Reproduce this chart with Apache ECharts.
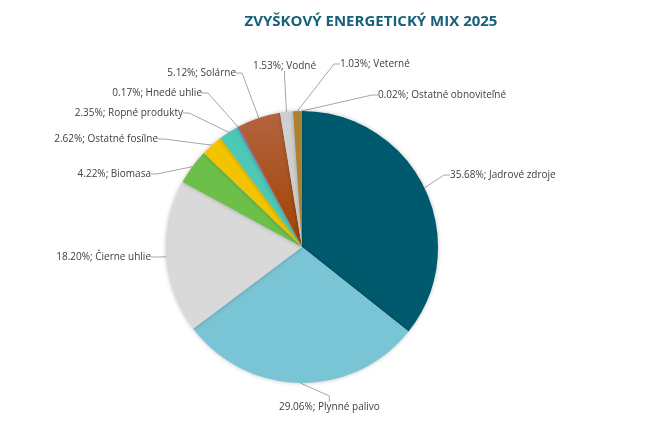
<!DOCTYPE html>
<html>
<head>
<meta charset="utf-8">
<script src="https://cdn.jsdelivr.net/npm/echarts@6/dist/echarts.min.js"></script>
<style>
  html, body { margin: 0; padding: 0; background: #fff; }
  #chart { width: 654px; height: 446px; }
</style>
</head>
<body>
<div id="chart"></div>
<script>
const categories = ['Jadrové zdroje', 'Plynné palivo', 'Čierne uhlie', 'Biomasa', 'Ostatné fosílne',
  'Ropné produkty', 'Hnedé uhlie', 'Solárne', 'Vodné', 'Veterné', 'Ostatné obnoviteľné']
const shares = [35.68, 29.06, 18.20, 4.22, 2.62, 2.35, 0.17, 5.12, 1.53, 1.03, 0.02]

// where each data label sits (x, y, anchor) — layout only
const labelSpots = [
  [450, 175, 'left'], [279, 407, 'left'], [151, 257, 'right'], [151, 174, 'right'],
  [158, 139, 'right'], [183, 113, 'right'], [202, 93, 'right'], [236, 73, 'right'],
  [253, 66, 'left'], [340, 64, 'left'], [378, 95, 'left'],
]

const colors = ['#005a6e', '#7ac5d5', '#d9d9d9', '#6cc04a', '#f2c400', '#4dc8b6', '#9b59b6',
  new echarts.graphic.LinearGradient(0, 0, 0, 1, [
    { offset: 0, color: '#b3643f' },
    { offset: 1, color: '#a04200' },
  ]),
  '#cfcfcf', '#ad8232', '#7f7f7f']

const chart = echarts.init(document.getElementById('chart'))

chart.setOption({
  animation: false,
  title: {
    text: 'ZVYŠKOVÝ ENERGETICKÝ MIX 2025',
    left: 366,
    top: 9,
    textAlign: 'center',
    textStyle: { fontFamily: 'Open Sans', fontSize: 15, fontWeight: 'bold', color: '#17607a' },
  },
  series: [{
    type: 'pie',
    center: [302, 247],
    radius: 136,
    startAngle: 90,
    clockwise: true,
    minAngle: 0,
    avoidLabelOverlap: false,
    itemStyle: { shadowBlur: 4, shadowColor: 'rgba(0,0,0,0.25)' },
    label: {
      show: true,
      fontFamily: 'Open Sans',
      fontSize: 10,
      color: '#404040',
      formatter: p => p.value.toFixed(2) + '%; ' + p.name,
    },
    labelLine: { length: 18, length2: 6, lineStyle: { color: '#a6a6a6', width: 1 } },
    labelLayout: p => {
      const s = labelSpots[p.dataIndex]
      return { x: s[0], y: s[1], align: s[2], verticalAlign: 'middle' }
    },
    data: categories.map((name, i) => ({ name, value: shares[i], itemStyle: { color: colors[i] } })),
  }],
})
</script>
</body>
</html>
